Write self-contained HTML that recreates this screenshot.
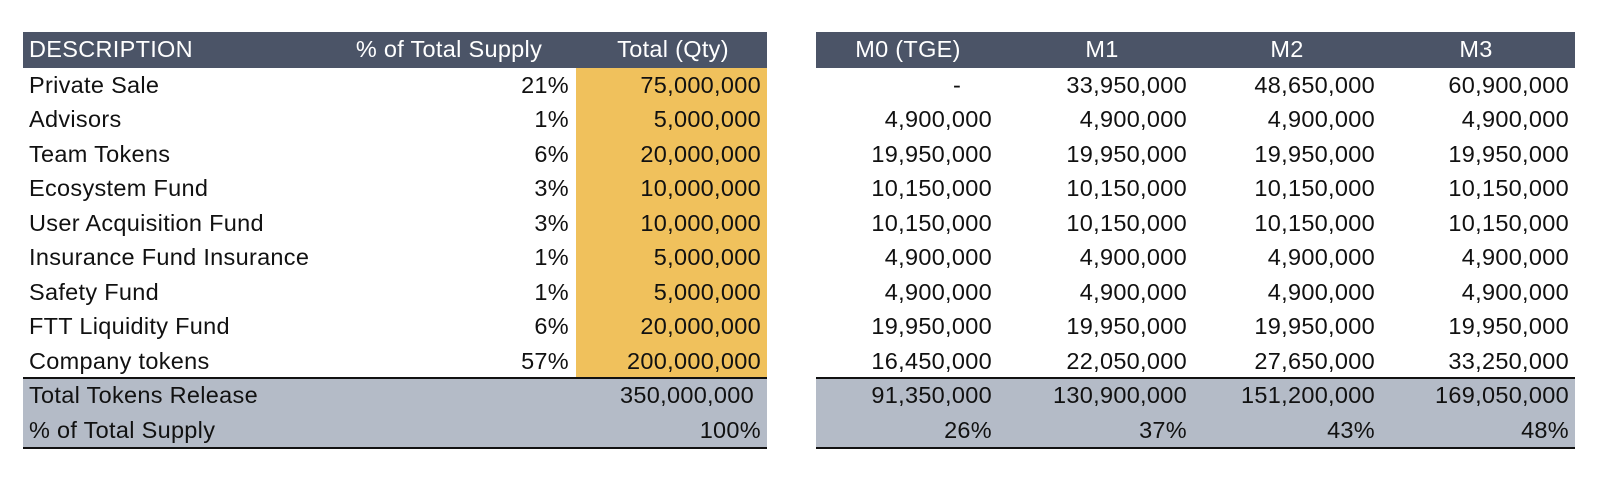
<!DOCTYPE html>
<html><head><meta charset="utf-8"><style>
body{margin:0;width:1600px;height:480px;background:#fff;position:relative;overflow:hidden;font-family:"Liberation Sans",sans-serif;font-size:23.5px;color:#111}
.b{position:absolute}
.t{position:absolute;white-space:nowrap;line-height:35px;height:35px;letter-spacing:0.3px}
.r{text-align:right}
.c{text-align:center}
.w{color:#fff}
</style></head><body>
<div class="b" style="left:23px;top:32px;width:744px;height:36px;background:#4b5467"></div>
<div class="b" style="left:816px;top:32px;width:759px;height:36px;background:#4b5467"></div>
<div class="b" style="left:576px;top:68px;width:191px;height:310px;background:#f0c15c"></div>
<div class="b" style="left:23px;top:378px;width:744px;height:70px;background:#b4bbc7"></div>
<div class="b" style="left:816px;top:378px;width:759px;height:70px;background:#b4bbc7"></div>
<div class="b" style="left:23px;top:377px;width:744px;height:2px;background:#111"></div>
<div class="b" style="left:816px;top:377px;width:759px;height:2px;background:#111"></div>
<div class="b" style="left:23px;top:447px;width:744px;height:2px;background:#111"></div>
<div class="b" style="left:816px;top:447px;width:759px;height:2px;background:#111"></div>

<div class="t w" style="left:29px;top:32px">DESCRIPTION</div>
<div class="t w c" style="left:339px;top:32px;width:220px">% of Total Supply</div>
<div class="t w c" style="left:573px;top:32px;width:200px">Total (Qty)</div>
<div class="t w c" style="left:818px;top:32px;width:180px">M0 (TGE)</div>
<div class="t w c" style="left:1012px;top:32px;width:180px">M1</div>
<div class="t w c" style="left:1197px;top:32px;width:180px">M2</div>
<div class="t w c" style="left:1386px;top:32px;width:180px">M3</div>

<div id="rows"></div>
<script>
var d=[["Private Sale","21%","75,000,000","-","33,950,000","48,650,000","60,900,000"],
["Advisors","1%","5,000,000","4,900,000","4,900,000","4,900,000","4,900,000"],
["Team Tokens","6%","20,000,000","19,950,000","19,950,000","19,950,000","19,950,000"],
["Ecosystem Fund","3%","10,000,000","10,150,000","10,150,000","10,150,000","10,150,000"],
["User Acquisition Fund","3%","10,000,000","10,150,000","10,150,000","10,150,000","10,150,000"],
["Insurance Fund Insurance","1%","5,000,000","4,900,000","4,900,000","4,900,000","4,900,000"],
["Safety Fund","1%","5,000,000","4,900,000","4,900,000","4,900,000","4,900,000"],
["FTT Liquidity Fund","6%","20,000,000","19,950,000","19,950,000","19,950,000","19,950,000"],
["Company tokens","57%","200,000,000","16,450,000","22,050,000","27,650,000","33,250,000"],
["Total Tokens Release","","350,000,000","91,350,000","130,900,000","151,200,000","169,050,000"],
["% of Total Supply","","100%","26%","37%","43%","48%"]];
var rights=[0,569,761,992,1187,1375,1569];
var h="";
d.forEach(function(r,i){var top=(i<9)?(68+i*34.45):(378+(i-9)*35);
h+='<div class="t" style="left:29px;top:'+top+'px">'+r[0]+'</div>';
for(var j=1;j<7;j++){if(!r[j])continue;var rt=rights[j];if(i==9&&j==2)rt=754;
if(j==3&&i==0){h+='<div class="t" style="left:953px;top:'+top+'px">-</div>';continue;}
h+='<div class="t r" style="left:'+(rt-250)+'px;width:250px;top:'+top+'px">'+r[j]+'</div>';}
});
document.getElementById("rows").innerHTML=h;
</script>
</body></html>
